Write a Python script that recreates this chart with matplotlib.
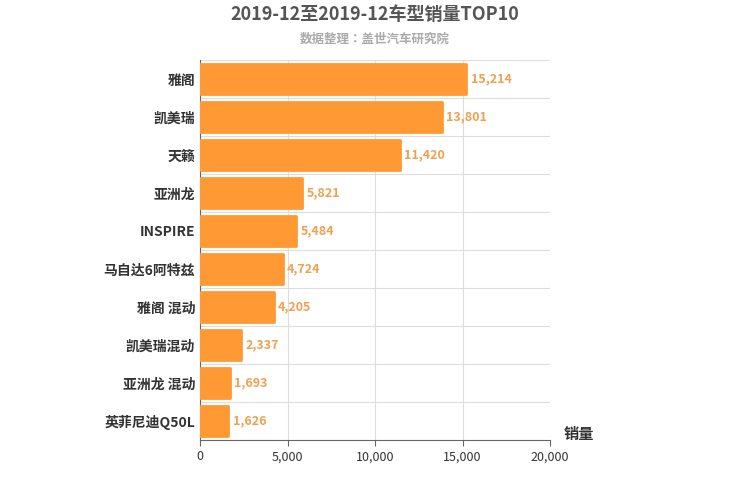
import matplotlib
matplotlib.use("Agg")
import matplotlib.pyplot as plt
from matplotlib import font_manager as fm

fam = None
for f in sorted(fm.findSystemFonts()):
    if "cjk" not in f.lower():
        continue
    try:
        fm.fontManager.addfont(f)
        n = fm.FontProperties(fname=f).get_name()
    except Exception:
        continue
    if n == "Noto Sans CJK SC":
        fam = n
    elif fam is None and "Sans" in n:
        fam = n
plt.rcParams["font.family"] = [fam or "Noto Sans CJK SC", "DejaVu Sans"]

categories = ["雅阁", "凯美瑞", "天籁", "亚洲龙", "INSPIRE", "马自达6阿特兹", "雅阁 混动", "凯美瑞混动", "亚洲龙 混动", "英菲尼迪Q50L"]
values = [15214, 13801, 11420, 5821, 5484, 4724, 4205, 2337, 1693, 1626]
xticks = [0, 5000, 10000, 15000, 20000]

fig = plt.figure(figsize=(7.5, 5), dpi=100)
ax = fig.add_axes([200/750, 60/500, 350/750, 380/500])
color = "#FF9933"
y = list(range(len(categories)))
ax.barh(y, values, height=0.8, color=color, edgecolor=color, linewidth=2, joinstyle="round", zorder=3)
for yi, v in zip(y, values):
    ax.text(v + 250, yi, f"{v:,}", va="center", ha="left", fontsize=9, fontweight="bold", color="#F0A050", zorder=4)
ax.set_ylim(len(categories) - 0.5, -0.5)
ax.set_xlim(0, 20000)
ax.set_xticks(xticks)
ax.set_xticklabels([f"{t:,}" for t in xticks], fontsize=9, color="#333333")
ax.set_yticks(y)
ax.set_yticklabels(categories, fontsize=10, fontweight="bold", color="#333333")
ax.set_yticks([i + 0.5 for i in range(-1, len(categories))], minor=True)
ax.grid(True, which="minor", axis="y", color="#DDDDDD", linewidth=0.8, zorder=0)
ax.grid(True, which="major", axis="x", color="#DDDDDD", linewidth=0.8, zorder=0)
ax.tick_params(axis="y", which="both", length=0)
ax.tick_params(axis="x", length=4, color="#666666")
for s in ["top", "right"]:
    ax.spines[s].set_visible(False)
ax.spines["left"].set_color("#666666")
ax.spines["bottom"].set_color("#666666")
ax.text(1.04, -0.005, "销量", transform=ax.transAxes, fontsize=11, fontweight="bold", color="#333333", ha="left", va="bottom")
fig.text(0.5, 0.972, "2019-12至2019-12车型销量TOP10", ha="center", va="center", fontsize=13, fontweight="bold", color="#555555")
fig.text(0.5, 0.922, "数据整理：盖世汽车研究院", ha="center", va="center", fontsize=9, fontweight="bold", color="#AAAAAA")
fig.savefig("out.png", dpi=100)
